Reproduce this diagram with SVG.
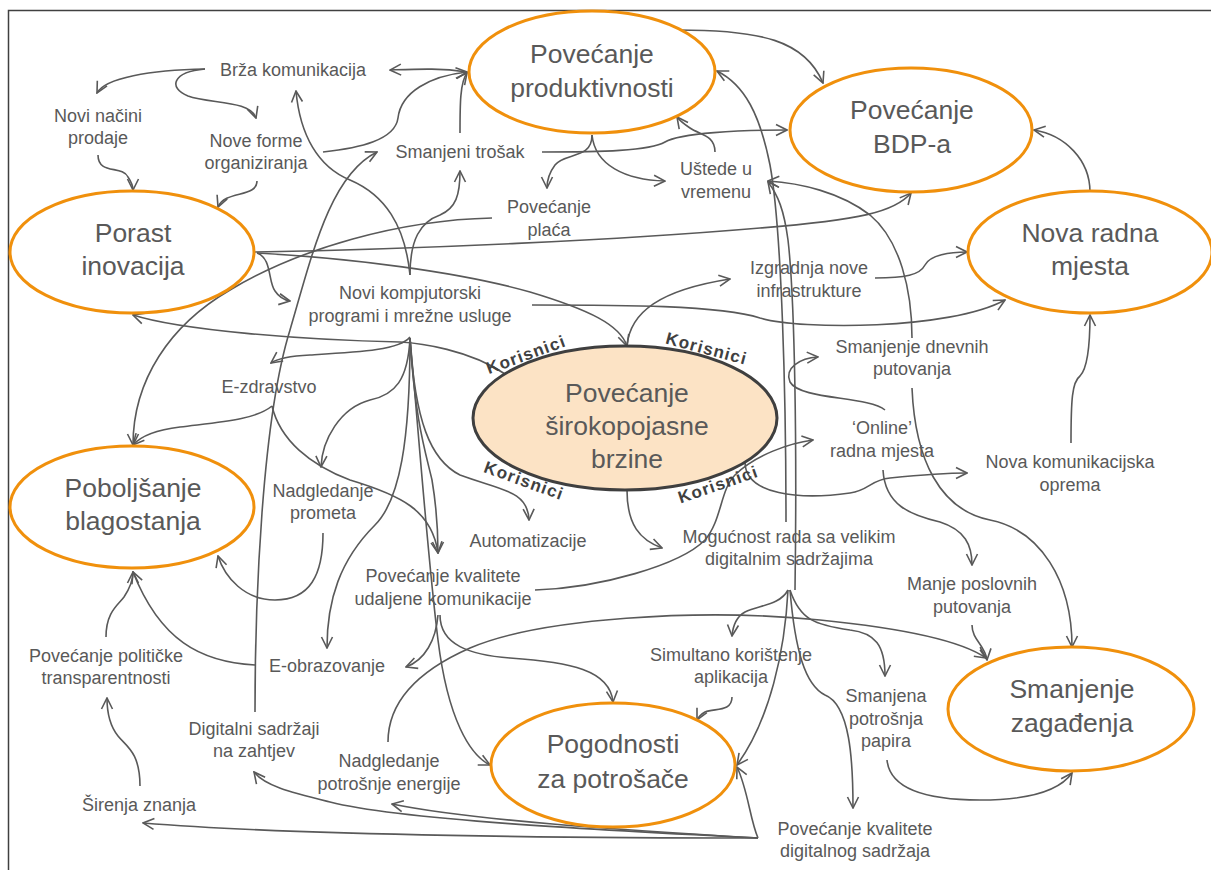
<svg xmlns="http://www.w3.org/2000/svg" width="1211" height="870" viewBox="0 0 1211 870">
<defs>
<style>
.t{font-family:"Liberation Sans",Arial,sans-serif;font-size:18px;fill:#595959;text-anchor:middle}
.b{font-size:26.5px}
.k{font-family:"Liberation Sans",Arial,sans-serif;font-weight:bold;font-size:17px;fill:#404040;letter-spacing:1.2px;text-anchor:middle}
.e{fill:#fff;stroke:#F0900C;stroke-width:3}
.m{fill:#FCE3C5;stroke:#3F3F3F;stroke-width:3}
#conn path{fill:none;stroke:#595959;stroke-width:1.6;marker-end:url(#a)}
</style>
<marker id="a" viewBox="0 0 14 14" refX="13" refY="7" markerWidth="14" markerHeight="14" markerUnits="userSpaceOnUse" orient="auto">
<path d="M2,1.5 L13,7 L2,12.5" fill="none" stroke="#595959" stroke-width="1.6"/>
</marker>
</defs>
<rect x="8.5" y="10.5" width="1220" height="880" fill="#fff" stroke="#404040" stroke-width="1.5"/>
<g id="conn">
<path d="M205,69 C150,70 105,78 97,93"/>
<path d="M205,69 C172,72 168,88 188,96 C210,104 250,100 256,118"/>
<path d="M98,155 C98,175 122,165 128,177 C132,183 133,186 133,190"/>
<path d="M257,181 C257,198 225,190 218,207"/>
<path d="M467,72 C440,68 420,69 390,70"/>
<path d="M323,152 C360,148 395,140 398,118 C401,92 430,76 467,72"/>
<path d="M460,133 C460,105 460,82 467,73"/>
<path d="M410,275 C405,225 385,195 350,180 C318,167 300,135 296,91"/>
<path d="M410,275 C410,240 420,222 440,215 C456,208 460,195 460,171"/>
<path d="M255,712 C255,600 262,420 290,330 C312,255 330,175 377,152"/>
<path d="M492,218 C400,220 300,248 230,290 C170,325 133,380 133,445"/>
<path d="M542,152 C600,152 650,151 665,142 C680,133 740,130 787,130"/>
<path d="M678,30 C760,30 805,40 823,83"/>
<path d="M1090,192 C1090,160 1065,135 1034,130"/>
<path d="M592,135 C592,160 565,152 555,165 C549,173 547,180 547,188"/>
<path d="M592,135 C595,165 625,180 665,181"/>
<path d="M715,152 C715,135 700,135 690,128 C684,124 680,121 677,117"/>
<path d="M255,252 C420,249 620,240 760,228 C860,220 895,212 911,193"/>
<path d="M257,253 C272,258 268,282 275,291 C279,297 284,300 290,301"/>
<path d="M257,253 C350,258 460,272 530,292 C590,310 620,325 627,346"/>
<path d="M627,346 C630,312 660,290 730,279"/>
<path d="M875,278 C905,278 920,275 925,265 C930,255 950,252 967,252"/>
<path d="M532,305 C620,305 720,305 760,318 C800,330 950,330 1005,300"/>
<path d="M505,374 C470,350 420,343 400,342 C300,340 180,330 133,315"/>
<path d="M410,337 C400,350 360,352 310,355 C290,356 278,358 271,363"/>
<path d="M272,406 C255,420 220,422 180,427 C155,430 140,437 133,445"/>
<path d="M272,406 C280,440 310,465 350,480 C400,495 432,510 438,553"/>
<path d="M410,338 C408,380 395,395 370,400 C340,408 322,440 321,467"/>
<path d="M410,338 C410,440 400,500 375,525 C340,560 327,600 327,648"/>
<path d="M410,338 C415,420 425,450 432,480 C437,510 438,530 438,553"/>
<path d="M410,338 C415,420 430,460 460,475 C500,490 528,490 529,520"/>
<path d="M410,338 C420,450 428,560 438,640 C448,720 470,755 490,765"/>
<path d="M323,533 C323,575 310,600 275,600 C245,600 225,578 218,556"/>
<path d="M438,615 C436,640 425,660 406,667"/>
<path d="M440,615 C440,645 470,655 510,658 C570,662 610,670 613,702"/>
<path d="M535,590 C600,588 680,565 705,540 C722,520 720,490 735,475 C755,455 790,443 813,440"/>
<path d="M255,665 C200,662 160,640 133,572"/>
<path d="M106,637 C106,612 118,605 124,597 C130,588 133,580 133,572"/>
<path d="M140,786 C140,752 126,746 118,736 C110,726 107,714 107,698"/>
<path d="M758,838 C600,838 300,836 143,823"/>
<path d="M758,838 C600,830 400,820 330,802 C290,792 265,786 254,772"/>
<path d="M758,838 C620,830 470,820 392,804"/>
<path d="M758,838 C750,820 748,790 737,767"/>
<path d="M388,742 C388,700 420,670 470,648 C540,618 700,608 820,620 C900,628 960,640 986,658"/>
<path d="M788,590 C780,605 760,605 745,612 C736,617 733,625 732,636"/>
<path d="M788,590 C785,650 770,720 737,765"/>
<path d="M790,590 C800,620 815,625 850,630 C875,633 885,645 885,676"/>
<path d="M790,590 C795,650 805,685 825,695 C850,705 853,760 853,808"/>
<path d="M732,697 C732,712 715,708 705,712 C700,715 698,718 697,720"/>
<path d="M887,760 C890,790 930,800 980,800 C1030,800 1060,790 1072,773"/>
<path d="M972,625 C972,640 985,645 987,660"/>
<path d="M912,388 C915,460 940,510 990,520 C1040,530 1072,580 1072,647"/>
<path d="M883,470 C885,505 910,515 940,522 C965,530 972,545 972,565"/>
<path d="M885,410 C868,396 800,400 790,382 C784,368 800,358 818,357"/>
<path d="M745,462 C745,495 800,500 850,493 C870,490 870,480 890,478 C920,475 950,473 967,473"/>
<path d="M1071,443 C1071,400 1072,382 1080,376 C1088,368 1090,340 1090,315"/>
<path d="M627,490 C627,525 640,540 662,548"/>
<path d="M912,338 C912,290 900,240 870,215 C840,192 800,183 768,181"/>
<path d="M786,522 C786,400 782,230 770,165 C760,115 745,85 717,71"/>
<path d="M795,590 C797,450 795,300 788,240 C784,210 778,195 768,182"/>
</g>
<g id="n-produktivnost"><ellipse class="e" cx="592" cy="72" rx="123" ry="61"/><text class="t b" x="592" y="63">Povećanje</text><text class="t b" x="592" y="97">produktivnosti</text></g>
<g id="n-bdp"><ellipse class="e" cx="911" cy="130" rx="121" ry="62"/><text class="t b" x="912" y="119">Povećanje</text><text class="t b" x="912" y="153">BDP-a</text></g>
<g id="n-radna"><ellipse class="e" cx="1090" cy="252" rx="122" ry="61"/><text class="t b" x="1090" y="242">Nova radna</text><text class="t b" x="1090" y="275">mjesta</text></g>
<g id="n-inovacija"><ellipse class="e" cx="132" cy="252" rx="122" ry="61"/><text class="t b" x="133" y="242">Porast</text><text class="t b" x="133" y="275">inovacija</text></g>
<g id="n-blagostanje"><ellipse class="e" cx="132" cy="507" rx="122" ry="61"/><text class="t b" x="133" y="497">Poboljšanje</text><text class="t b" x="133" y="530">blagostanja</text></g>
<g id="n-brzina"><ellipse class="m" cx="625" cy="418" rx="152" ry="72"/><text class="t b" x="627" y="402">Povećanje</text><text class="t b" x="627" y="435">širokopojasne</text><text class="t b" x="627" y="468">brzine</text>
<text class="k" transform="translate(528,360) rotate(-20)">Korisnici</text>
<text class="k" transform="translate(705,354) rotate(15)">Korisnici</text>
<text class="k" transform="translate(522,486) rotate(20)">Korisnici</text>
<text class="k" transform="translate(720,490) rotate(-19)">Korisnici</text></g>
<g id="n-pogodnosti"><ellipse class="e" cx="613" cy="765" rx="122" ry="62"/><text class="t b" x="613" y="753">Pogodnosti</text><text class="t b" x="613" y="788">za potrošače</text></g>
<g id="n-zagadenje"><ellipse class="e" cx="1071" cy="709" rx="123" ry="62"/><text class="t b" x="1072" y="698">Smanjenje</text><text class="t b" x="1072" y="732">zagađenja</text></g>
<g id="n-brza"><text class="t" x="293" y="76">Brža komunikacija</text></g>
<g id="n-prodaja"><text class="t" x="98" y="122">Novi načini</text><text class="t" x="98" y="144">prodaje</text></g>
<g id="n-forme"><text class="t" x="256" y="147">Nove forme</text><text class="t" x="256" y="169">organiziranja</text></g>
<g id="n-trosak"><text class="t" x="460" y="158">Smanjeni trošak</text></g>
<g id="n-placa"><text class="t" x="549" y="213">Povećanje</text><text class="t" x="549" y="236">plaća</text></g>
<g id="n-ustede"><text class="t" x="716" y="175">Uštede u</text><text class="t" x="716" y="198">vremenu</text></g>
<g id="n-infra"><text class="t" x="809" y="274">Izgradnja nove</text><text class="t" x="809" y="297">infrastrukture</text></g>
<g id="n-programi"><text class="t" x="410" y="299">Novi kompjutorski</text><text class="t" x="410" y="322">programi i mrežne usluge</text></g>
<g id="n-ezdravstvo"><text class="t" x="269" y="393">E-zdravstvo</text></g>
<g id="n-promet"><text class="t" x="323" y="497">Nadgledanje</text><text class="t" x="323" y="519">prometa</text></g>
<g id="n-automatizacija"><text class="t" x="528" y="547">Automatizacije</text></g>
<g id="n-udaljena"><text class="t" x="443" y="582">Povećanje kvalitete</text><text class="t" x="443" y="605">udaljene komunikacije</text></g>
<g id="n-eobrazovanje"><text class="t" x="327" y="672">E-obrazovanje</text></g>
<g id="n-transparentnost"><text class="t" x="106" y="662">Povećanje političke</text><text class="t" x="106" y="684">transparentnosti</text></g>
<g id="n-digitalni"><text class="t" x="254" y="735">Digitalni sadržaji</text><text class="t" x="254" y="757">na zahtjev</text></g>
<g id="n-znanje"><text class="t" x="139" y="811">Širenja znanja</text></g>
<g id="n-energija"><text class="t" x="389" y="767">Nadgledanje</text><text class="t" x="389" y="790">potrošnje energije</text></g>
<g id="n-simultano"><text class="t" x="731" y="661">Simultano korištenje</text><text class="t" x="731" y="683">aplikacija</text></g>
<g id="n-mogucnost"><text class="t" x="789" y="543">Mogućnost rada sa velikim</text><text class="t" x="789" y="565">digitalnim sadržajima</text></g>
<g id="n-dnevna"><text class="t" x="912" y="353">Smanjenje dnevnih</text><text class="t" x="912" y="375">putovanja</text></g>
<g id="n-online"><text class="t" x="882" y="434">‘Online’</text><text class="t" x="882" y="457">radna mjesta</text></g>
<g id="n-oprema"><text class="t" x="1070" y="468">Nova komunikacijska</text><text class="t" x="1070" y="491">oprema</text></g>
<g id="n-poslovna"><text class="t" x="972" y="590">Manje poslovnih</text><text class="t" x="972" y="613">putovanja</text></g>
<g id="n-papir"><text class="t" x="886" y="702">Smanjena</text><text class="t" x="886" y="725">potrošnja</text><text class="t" x="886" y="747">papira</text></g>
<g id="n-kvaliteta"><text class="t" x="855" y="835">Povećanje kvalitete</text><text class="t" x="855" y="857">digitalnog sadržaja</text></g>
</svg>
